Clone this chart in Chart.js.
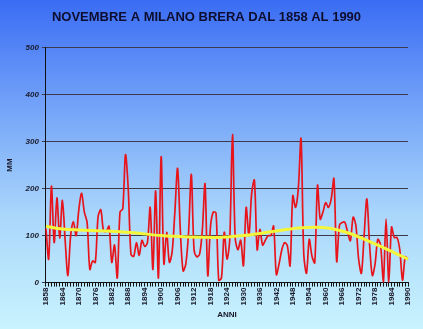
<!DOCTYPE html>
<html>
<head>
<meta charset="utf-8">
<script src="https://cdn.jsdelivr.net/npm/chart.js@4"></script>
<style>
  html, body { margin: 0; padding: 0; }
  body {
    width: 423px;
    height: 329px;
    background: linear-gradient(to bottom, #3a6cf4 0%, #6f9ff8 30%, #a9d6fb 65%, #c9f3fd 100%);
    overflow: hidden;
  }
  .wrap { width: 423px; height: 329px; position: relative; }
</style>
</head>
<body>
<div class="wrap"><canvas class="rain-chart"></canvas></div>
<script>
// anni 1858-1990
const years = [];
for (let y = 1858; y <= 1990; y++) years.push(String(y));

// pioggia di novembre (mm)
const rain = [
  115, 50, 205, 85, 180, 95, 175, 90, 15, 100,
  130, 100, 156, 190, 150, 128, 28, 46, 43, 140,
  155, 110, 109, 120, 43, 80, 10, 150, 157, 272,
  200, 60, 56, 85, 58, 90, 77, 85, 160, 28,
  195, 10, 268, 40, 107, 43, 65, 150, 243, 110,
  25, 40, 107, 230, 70, 55, 60, 110, 210, 15,
  120, 150, 148, 5, 10, 107, 50, 90, 315, 95,
  70, 90, 36, 160, 100, 190, 218, 70, 113, 80,
  90, 100, 100, 120, 17, 40, 70, 85, 79, 36,
  185, 160, 200, 306, 60, 20, 92, 56, 42, 207,
  135, 150, 170, 160, 178, 221, 45, 122, 128, 128,
  107, 89, 139, 121, 50, 20, 100, 178, 80, 15,
  40, 92, 80, 0, 135, 0, 118, 96, 96, 70,
  5, 55, 50,
];

// linea di tendenza (punti letti)
const trendYears = [1858, 1864, 1870, 1880, 1890, 1900, 1910, 1920, 1930, 1940, 1950, 1956, 1962, 1968, 1975, 1982, 1990];
const trendValues = [120, 114, 112, 110, 106, 100, 97, 96, 100, 108, 116, 118, 115, 106, 90, 72, 50];

const yTicks = [0, 100, 200, 300, 400, 500];

const trend = years.map((y) => {
  const i = trendYears.indexOf(Number(y));
  return i >= 0 ? trendValues[i] : null;
});

const ctx = document.querySelector(".rain-chart");

new Chart(ctx, {
  type: "line",
  data: {
    labels: years,
    datasets: [
      {
        label: "tendenza",
        data: trend,
        borderColor: "#f4f63a",
        borderWidth: 3,
        pointRadius: 0,
        spanGaps: true,
        cubicInterpolationMode: "monotone",
        order: 0,
      },
      {
        label: "mm",
        data: rain,
        borderColor: "#e8141c",
        borderWidth: 1.7,
        pointRadius: 0,
        tension: 0.3,
        order: 1,
      },
    ],
  },
  options: {
    responsive: true,
    maintainAspectRatio: false,
    animation: false,
    layout: {
      padding: { top: 6, right: 15, bottom: 9, left: 5 },
    },
    scales: {
      x: {
        offset: false,
        border: { display: true, color: "#111", width: 1 },
        grid: {
          display: true,
          drawOnChartArea: false,
          drawTicks: true,
          tickLength: 4,
          color: "#111",
        },
        ticks: {
          autoSkip: false,
          minRotation: 90,
          maxRotation: 90,
          padding: 1,
          color: "#1a1a2a",
          font: { family: "Liberation Sans", size: 8, weight: "bold" },
          callback: function (value, index) {
            const y = Number(years[index]);
            return (y - 1858) % 6 === 0 ? years[index] : "";
          },
        },
        title: {
          display: true,
          text: "ANNI",
          color: "#1a1a2a",
          padding: { top: 4, bottom: 0 },
          font: { family: "Liberation Sans", size: 8, weight: "bold" },
        },
      },
      y: {
        min: 0,
        max: 500,
        afterBuildTicks: (axis) => {
          axis.ticks = yTicks.map((v) => ({ value: v }));
        },
        border: { display: true, color: "#111", width: 1 },
        grid: {
          color: "#3a3a4a",
          tickLength: 4,
        },
        ticks: {
          padding: 3,
          color: "#1a1a2a",
          font: { family: "Liberation Sans", size: 8, weight: "bold", style: "italic" },
        },
        title: {
          display: true,
          text: "MM",
          color: "#1a1a2a",
          padding: { top: 0, bottom: 8 },
          font: { family: "Liberation Sans", size: 8, weight: "bold" },
        },
      },
    },
    plugins: {
      legend: { display: false },
      tooltip: { enabled: false },
      title: {
        display: true,
        text: "NOVEMBRE A MILANO BRERA DAL 1858 AL 1990",
        color: "#0d0d2e",
        padding: { top: 4, bottom: 22 },
        font: { family: "Liberation Sans", size: 13, weight: "bold" },
      },
    },
  },
});
</script>
</body>
</html>
